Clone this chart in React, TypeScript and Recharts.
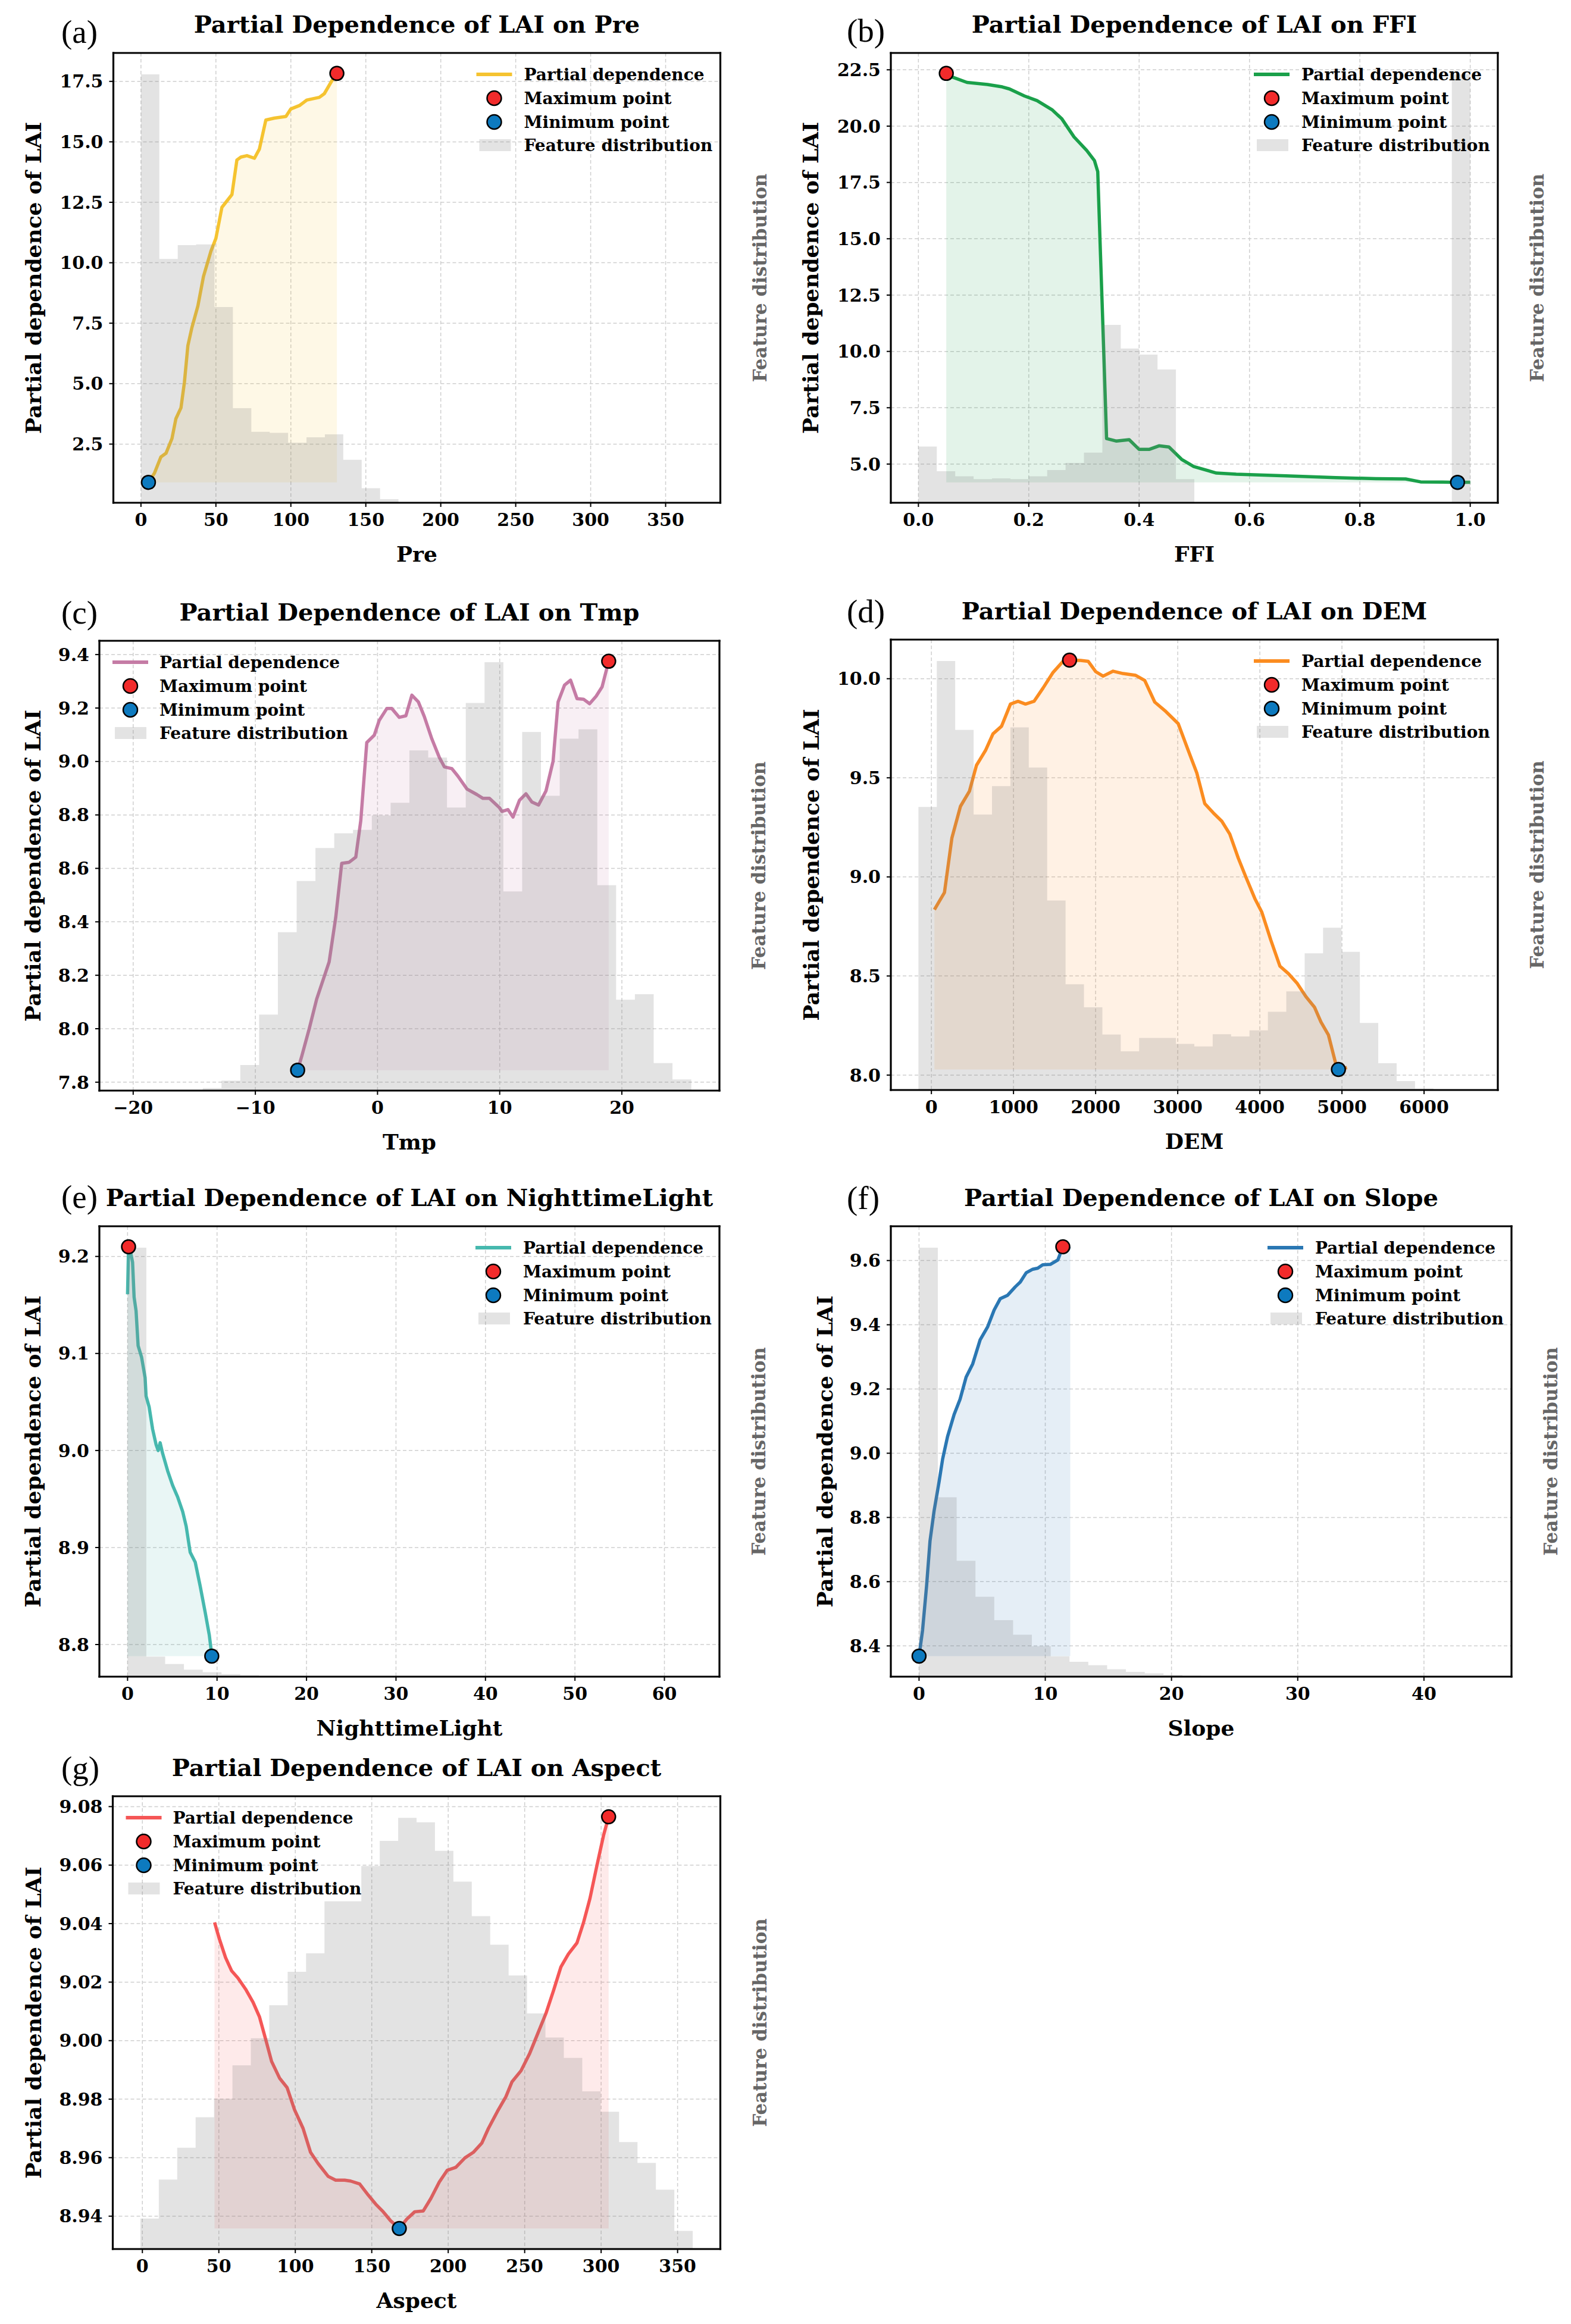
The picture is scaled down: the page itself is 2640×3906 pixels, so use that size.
import React from 'react';
import { ComposedChart, Area, Scatter, XAxis, YAxis, CartesianGrid } from 'recharts';

// ---------------- DATA ----------------
// (a) Pre
const prePD: [number, number][] = [[5,0.92],[9,1.30],[13.3,1.97],[16.7,2.12],[20.7,2.73],[23.3,3.55],[26.7,4.0],[29,5.06],[31.3,6.57],[34,7.32],[38,8.22],[41.7,9.43],[46.7,10.48],[50,11.01],[54,12.29],[60.7,12.82],[64,14.25],[66.7,14.37],[70.7,14.43],[75.7,14.32],[79,14.7],[83.3,15.9],[89,15.98],[96.7,16.05],[100,16.36],[105.7,16.5],[110.7,16.73],[119,16.84],[122.3,16.99],[129,17.7],[130.7,17.83]];
const preHistStart = 0;
const preHistWidth = 12.27;
const preHistCounts = [1177,670,708,710,538,260,195,192,165,180,188,118,40,10,0,0,0,0,0,0,0,0,0,0,0,0,0,0,0,0];
const preXTicks = [0,50,100,150,200,250,300,350];
const preYTicks = [2.5,5,7.5,10,12.5,15,17.5];

// (b) FFI
const ffiPD: [number, number][] = [[0.0505,22.34],[0.061,22.18],[0.088,21.94],[0.125,21.85],[0.152,21.74],[0.165,21.65],[0.192,21.34],[0.215,21.13],[0.242,20.73],[0.26,20.32],[0.282,19.52],[0.305,18.92],[0.319,18.47],[0.325,17.98],[0.33,14.27],[0.334,11.37],[0.341,6.13],[0.359,6.02],[0.382,6.08],[0.4,5.65],[0.418,5.65],[0.436,5.81],[0.454,5.76],[0.477,5.21],[0.499,4.89],[0.54,4.6],[0.576,4.55],[0.666,4.48],[0.756,4.4],[0.829,4.35],[0.883,4.34],[0.91,4.21],[0.95,4.2],[0.977,4.19],[1.0,4.195]];
const ffiHistStart = 0;
const ffiHistWidth = 1 / 30;
const ffiHistCounts = [155,87,73,65,67,65,73,90,110,138,490,425,408,367,65,0,0,0,0,0,0,0,0,0,0,0,0,0,0,1180];
const ffiXTicks = [0,0.2,0.4,0.6,0.8,1.0];
const ffiYTicks = [5,7.5,10,12.5,15,17.5,20,22.5];

// (c) Tmp
const tmpPD: [number, number][] = [[-6.54,7.845],[-6.21,7.896],[-5.59,8.0],[-4.98,8.111],[-3.96,8.25],[-3.42,8.417],[-2.93,8.619],[-2.32,8.623],[-1.78,8.642],[-1.37,8.779],[-0.88,9.071],[-0.27,9.098],[0.14,9.154],[0.76,9.198],[1.17,9.198],[1.78,9.165],[2.32,9.171],[2.81,9.248],[3.34,9.223],[3.83,9.168],[4.45,9.084],[5.06,9.015],[5.47,8.98],[6.09,8.973],[6.58,8.945],[7.32,8.897],[8.14,8.876],[8.63,8.862],[9.16,8.862],[9.98,8.827],[10.18,8.813],[10.68,8.82],[11.09,8.792],[11.62,8.855],[12.15,8.879],[12.64,8.848],[13.18,8.837],[13.79,8.89],[14.37,9.001],[14.78,9.223],[15.31,9.286],[15.8,9.304],[16.33,9.235],[16.86,9.233],[17.36,9.216],[17.89,9.244],[18.38,9.279],[18.92,9.375]];
const tmpHistStart = -20.46;
const tmpHistWidth = 1.538;
const tmpHistCounts = [0,0,0,0,7,27,69,205,427,565,654,694,703,742,776,917,898,763,1045,1155,537,967,795,949,974,554,245,260,74,30];
const tmpXTicks = [-20,-10,0,10,20];
const tmpYTicks = [7.8,8.0,8.2,8.4,8.6,8.8,9.0,9.2,9.4];

// (d) DEM
const demPD: [number, number][] = [[37,8.835],[159,8.921],[250,9.197],[354,9.356],[463,9.432],[549,9.563],[659,9.638],[750,9.722],[854,9.76],[963,9.872],[1055,9.886],[1146,9.872],[1250,9.886],[1360,9.953],[1482,10.032],[1604,10.088],[1683,10.094],[1817,10.092],[1909,10.088],[2000,10.036],[2091,10.013],[2213,10.038],[2335,10.026],[2488,10.017],[2598,9.991],[2720,9.882],[2854,9.835],[3006,9.773],[3128,9.638],[3232,9.525],[3329,9.37],[3433,9.323],[3537,9.281],[3634,9.216],[3738,9.094],[3829,9.0],[3939,8.891],[4024,8.822],[4134,8.681],[4244,8.55],[4348,8.512],[4451,8.465],[4561,8.396],[4665,8.343],[4744,8.268],[4835,8.203],[4927,8.053],[4957,8.028],[5061,8.038]];
const demHistStart = -158;
const demHistWidth = 224;
const demHistCounts = [760,1152,967,740,816,974,866,509,284,222,149,104,140,140,124,117,150,144,160,210,265,367,436,371,180,72,24,4,0,0];
const demXTicks = [0,1000,2000,3000,4000,5000,6000];
const demYTicks = [8.0,8.5,9.0,9.5,10.0];

// (e) NighttimeLight
const ntlPD: [number, number][] = [[0,9.161],[0.11,9.21],[0.39,9.202],[0.56,9.194],[0.73,9.158],[0.95,9.144],[1.18,9.108],[1.57,9.096],[1.96,9.075],[2.07,9.056],[2.41,9.045],[2.8,9.022],[3.19,9.006],[3.42,9.0],[3.64,9.008],[3.92,8.997],[4.48,8.979],[5.04,8.964],[5.6,8.952],[6.16,8.937],[6.55,8.922],[7.0,8.895],[7.56,8.885],[8.12,8.86],[8.68,8.833],[9.13,8.81],[9.36,8.793],[9.41,8.788]];
const ntlHistStart = 0;
const ntlHistWidth = 2.1;
const ntlHistCounts = [1154,54,34,19,12,7,4,2,0,0,0,0,0,0,0,0,0,0,0,0,0,0,0,0,0,0,0,0,0,0];
const ntlXTicks = [0,10,20,30,40,50,60];
const ntlYTicks = [8.8,8.9,9.0,9.1,9.2];

// (f) Slope
const slopePD: [number, number][] = [[0,8.368],[0.28,8.449],[0.6,8.588],[0.87,8.727],[1.19,8.82],[1.59,8.912],[1.87,8.982],[2.26,9.052],[2.78,9.121],[3.25,9.168],[3.73,9.237],[4.25,9.278],[4.84,9.353],[5.44,9.394],[5.95,9.446],[6.43,9.481],[7.02,9.492],[7.62,9.518],[8.02,9.533],[8.49,9.562],[9.01,9.573],[9.4,9.576],[9.8,9.587],[10.4,9.588],[11.0,9.602],[11.39,9.643],[11.98,9.637]];
const slopeHistStart = 0;
const slopeHistWidth = 1.49;
const slopeHistCounts = [1155,483,312,215,152,113,82,55,40,31,20,13,9,5,3,0,0,0,0,0,0,0,0,0,0,0,0,0,0,0];
const slopeXTicks = [0,10,20,30,40];
const slopeYTicks = [8.4,8.6,8.8,9.0,9.2,9.4,9.6];

// (g) Aspect
const aspectPD: [number, number][] = [[47.2,9.0404],[50.4,9.0347],[54.4,9.0284],[58.3,9.0239],[62.5,9.0214],[67.5,9.0176],[72.4,9.0131],[76.6,9.0081],[80.6,9.0005],[84.5,8.9929],[89.7,8.9872],[94.6,8.984],[99.5,8.9764],[105.1,8.97],[110.0,8.9618],[114.9,8.958],[121.5,8.9536],[126.4,8.9523],[132.3,8.9523],[136.2,8.952],[142.1,8.951],[147.7,8.9472],[152.6,8.9441],[157.5,8.9415],[162.4,8.9384],[168.0,8.9358],[172.9,8.939],[178.1,8.9415],[183.7,8.9418],[188.6,8.946],[194.2,8.9517],[199.4,8.9557],[205.0,8.9567],[210.9,8.9599],[216.4,8.9618],[222.0,8.965],[226.3,8.97],[232.2,8.9758],[237.7,8.9808],[241.7,8.9859],[247.6,8.9897],[253.1,8.9954],[258.0,9.0017],[263.9,9.0093],[268.8,9.017],[273.7,9.0252],[278.6,9.0296],[284.2,9.0334],[288.5,9.0404],[292.7,9.0486],[297.3,9.06],[301.6,9.0702],[304.9,9.0765]];
const aspectHistStart = -1.3;
const aspectHistWidth = 12.04;
const aspectHistCounts = [82,187,273,355,405,495,568,657,747,797,937,937,1032,1100,1162,1150,1073,990,897,820,737,635,570,515,425,370,288,232,160,49];
const aspectXTicks = [0,50,100,150,200,250,300,350];
const aspectYTicks = [8.94,8.96,8.98,9.0,9.02,9.04,9.06,9.08];

// ---------------- STYLE / LAYOUT ----------------
const FONT = "'DejaVu Serif', serif";
const TAG_FONT = "'Liberation Serif', 'Times New Roman', serif";
const MAX_COLOR = '#f22b2b';
const MIN_COLOR = '#0d7abf';
const HIST_COLOR = '#808080';
const HIST_OPACITY = 0.22;

type Spec = {
  tag: string; feature: string; color: string;
  pd: [number, number][]; histStart: number; histWidth: number; hist: number[];
  xTicks: number[]; yTicks: number[]; xDec: number; yDec: number;
  col: number; L: number; T: number; R: number; B: number;
  legend: 'left' | 'right'; yLabelGap: number; tagDy: number;
};

const panels: Spec[] = [
  { tag: '(a)', feature: 'Pre', color: '#f5c330', pd: prePD, histStart: preHistStart, histWidth: preHistWidth, hist: preHistCounts, xTicks: preXTicks, yTicks: preYTicks, xDec: 0, yDec: 1, col: 0, L: 190.5, T: 89, R: 1210.5, B: 845, legend: 'right', yLabelGap: 135, tagDy: 17 },
  { tag: '(b)', feature: 'FFI', color: '#1aa04a', pd: ffiPD, histStart: ffiHistStart, histWidth: ffiHistWidth, hist: ffiHistCounts, xTicks: ffiXTicks, yTicks: ffiYTicks, xDec: 1, yDec: 1, col: 1320, L: 1497, T: 89, R: 2517, B: 845, legend: 'right', yLabelGap: 135, tagDy: 19 },
  { tag: '(c)', feature: 'Tmp', color: '#c57ba5', pd: tmpPD, histStart: tmpHistStart, histWidth: tmpHistWidth, hist: tmpHistCounts, xTicks: tmpXTicks, yTicks: tmpYTicks, xDec: 0, yDec: 1, col: 0, L: 167, T: 1077, R: 1209, B: 1833, legend: 'left', yLabelGap: 112, tagDy: 29 },
  { tag: '(d)', feature: 'DEM', color: '#fb8c20', pd: demPD, histStart: demHistStart, histWidth: demHistWidth, hist: demHistCounts, xTicks: demXTicks, yTicks: demYTicks, xDec: 0, yDec: 1, col: 1320, L: 1497, T: 1075, R: 2517, B: 1832, legend: 'right', yLabelGap: 134, tagDy: 29 },
  { tag: '(e)', feature: 'NighttimeLight', color: '#46b8ae', pd: ntlPD, histStart: ntlHistStart, histWidth: ntlHistWidth, hist: ntlHistCounts, xTicks: ntlXTicks, yTicks: ntlYTicks, xDec: 0, yDec: 1, col: 0, L: 167, T: 2061, R: 1209, B: 2818, legend: 'right', yLabelGap: 112, tagDy: 31 },
  { tag: '(f)', feature: 'Slope', color: '#2a77b3', pd: slopePD, histStart: slopeHistStart, histWidth: slopeHistWidth, hist: slopeHistCounts, xTicks: slopeXTicks, yTicks: slopeYTicks, xDec: 0, yDec: 1, col: 1320, L: 1497, T: 2061, R: 2540, B: 2818, legend: 'right', yLabelGap: 111, tagDy: 29 },
  { tag: '(g)', feature: 'Aspect', color: '#f55656', pd: aspectPD, histStart: aspectHistStart, histWidth: aspectHistWidth, hist: aspectHistCounts, xTicks: aspectXTicks, yTicks: aspectYTicks, xDec: 0, yDec: 2, col: 0, L: 189.5, T: 3019, R: 1210.5, B: 3780, legend: 'left', yLabelGap: 134, tagDy: 29 },
];

function fmt(v: number, d: number): string {
  const s = v.toFixed(d);
  return s.startsWith('-') ? '\u2212' + s.slice(1) : s;
}

function makeDot(fill: string) {
  return (props: any) => {
    const { cx, cy } = props;
    if (cx == null || cy == null) return <g />;
    return <circle cx={cx} cy={cy} r={11.5} fill={fill} stroke="#000" strokeWidth={2.5} />;
  };
}

const tickStyle = { fontFamily: FONT, fontSize: 30, fontWeight: 700, fill: '#000' };
const axisLineStyle = { stroke: '#000', strokeWidth: 3.2, strokeLinecap: 'square' as const };
const tickLineStyle = { stroke: '#000', strokeWidth: 2 };
const AX = 1; // axis band thickness reserved by each axis

function PDPanel({ p }: { p: Spec }) {
  const W = 1320;
  const oy = p.T - 110;
  const H = p.B - p.T + 220;
  const ox = p.col;

  const pdData = p.pd.map(([x, y]) => ({ x, y }));
  const ys = p.pd.map((d) => d[1]);
  const lo = Math.min(...ys);
  const hi = Math.max(...ys);
  const pad = (hi - lo) * 0.05;
  const iMax = ys.indexOf(hi);
  const iMin = ys.indexOf(lo);
  const maxPt = [{ x: p.pd[iMax][0], y: hi }];
  const minPt = [{ x: p.pd[iMin][0], y: lo }];

  const histEnd = p.histStart + p.hist.length * p.histWidth;
  const xpad = (histEnd - p.histStart) * 0.05;
  const xDomain: [number, number] = [p.histStart - xpad, histEnd + xpad];
  const histData = [
    ...p.hist.map((h, i) => ({ x: p.histStart + i * p.histWidth, h })),
    { x: histEnd, h: p.hist[p.hist.length - 1] },
  ];
  const hMax = Math.max(...p.hist);

  const margin = {
    top: p.T - oy - AX,
    bottom: oy + H - p.B - AX,
    left: p.L - ox - AX,
    right: ox + W - p.R - AX,
  };

  // overlay coordinates (relative to panel box)
  const L = p.L - ox, R = p.R - ox, T = p.T - oy, B = p.B - oy;
  const cx = (L + R) / 2;
  const cy = (T + B) / 2;
  const yLabelX = L - p.yLabelGap + 13;
  const rightLabelX = R + 66 + 11;

  const lg = p.legend === 'right'
    ? { lx1: R - 410, lx2: R - 350, mx: R - 380, px: R - 405, tx: R - 330 }
    : { lx1: L + 22, lx2: L + 82, mx: L + 52, px: L + 26, tx: L + 101 };
  const rows = [T + 36, T + 76, T + 116, T + 155];
  const legendText = { fontFamily: FONT, fontSize: 28, fontWeight: 700, fill: '#000' };

  return (
    <div style={{ position: 'absolute', left: ox, top: oy, width: W, height: H }}>
      <div style={{ position: 'absolute', left: 0, top: 0 }}>
        <ComposedChart width={W} height={H} margin={margin}>
          <CartesianGrid xAxisId="x" yAxisId="pd" stroke="#cfcfcf" strokeWidth={1.5} strokeDasharray="6 4" />
          <Area
            xAxisId="x" yAxisId="pd" data={pdData} dataKey="y" type="linear"
            baseValue={lo} stroke={p.color} strokeWidth={5.5} fill={p.color} fillOpacity={0.12}
            dot={false} activeDot={false} isAnimationActive={false} strokeLinejoin="round"
          />
          <Area
            xAxisId="x" yAxisId="hist" data={histData} dataKey="h" type="stepAfter"
            baseValue={0} stroke="none" fill={HIST_COLOR} fillOpacity={HIST_OPACITY}
            dot={false} activeDot={false} isAnimationActive={false}
          />
          <Scatter xAxisId="x" yAxisId="pd" data={maxPt} dataKey="y" shape={makeDot(MAX_COLOR)} isAnimationActive={false} />
          <Scatter xAxisId="x" yAxisId="pd" data={minPt} dataKey="y" shape={makeDot(MIN_COLOR)} isAnimationActive={false} />
          <XAxis
            xAxisId="x" dataKey="x" type="number" domain={xDomain} allowDataOverflow ticks={p.xTicks}
            interval={0} height={AX} tickSize={7} tickMargin={11} tick={tickStyle}
            tickFormatter={(v: number) => fmt(v, p.xDec)} axisLine={axisLineStyle} tickLine={tickLineStyle}
          />
          <XAxis
            xAxisId="top" orientation="top" dataKey="x" type="number" domain={xDomain} allowDataOverflow
            height={AX} tick={false} tickLine={false} axisLine={axisLineStyle}
          />
          <YAxis
            yAxisId="pd" dataKey="y" type="number" domain={[lo - pad, hi + pad]} allowDataOverflow ticks={p.yTicks}
            interval={0} width={AX} tickSize={7} tickMargin={10} tick={tickStyle}
            tickFormatter={(v: number) => fmt(v, p.yDec)} axisLine={axisLineStyle} tickLine={tickLineStyle}
          />
          <YAxis
            yAxisId="hist" orientation="right" type="number" domain={[0, hMax * 1.05]} allowDataOverflow
            width={AX} tick={false} tickLine={false} axisLine={axisLineStyle}
          />
        </ComposedChart>
      </div>
      <svg width={W} height={H} style={{ position: 'absolute', left: 0, top: 0, pointerEvents: 'none' }}>
        <text x={103} y={T - p.tagDy} fontFamily={TAG_FONT} fontSize={55} fill="#000">{p.tag}</text>
        <text x={cx} y={T - 34} textAnchor="middle" fontFamily={FONT} fontSize={40} fontWeight={700} fill="#000">
          {`Partial Dependence of LAI on ${p.feature}`}
        </text>
        <text x={cx} y={B + 99} textAnchor="middle" fontFamily={FONT} fontSize={36} fontWeight={700} fill="#000">
          {p.feature}
        </text>
        <text x={yLabelX} y={cy} textAnchor="middle" transform={`rotate(-90 ${yLabelX} ${cy})`} fontFamily={FONT} fontSize={36} fontWeight={700} fill="#000">
          Partial dependence of LAI
        </text>
        <text x={rightLabelX} y={cy} textAnchor="middle" transform={`rotate(-90 ${rightLabelX} ${cy})`} fontFamily={FONT} fontSize={31} fontWeight={700} fill="#666">
          Feature distribution
        </text>
        {/* legend */}
        <line x1={lg.lx1} x2={lg.lx2} y1={rows[0]} y2={rows[0]} stroke={p.color} strokeWidth={6} />
        <text x={lg.tx} y={rows[0] + 10} {...legendText}>Partial dependence</text>
        <circle cx={lg.mx} cy={rows[1]} r={12} fill={MAX_COLOR} stroke="#000" strokeWidth={2.5} />
        <text x={lg.tx} y={rows[1] + 10} {...legendText}>Maximum point</text>
        <circle cx={lg.mx} cy={rows[2]} r={12} fill={MIN_COLOR} stroke="#000" strokeWidth={2.5} />
        <text x={lg.tx} y={rows[2] + 10} {...legendText}>Minimum point</text>
        <rect x={lg.px} y={rows[3] - 10} width={53} height={20} fill={HIST_COLOR} fillOpacity={HIST_OPACITY} />
        <text x={lg.tx} y={rows[3] + 10} {...legendText}>Feature distribution</text>
      </svg>
    </div>
  );
}

export default function App() {
  return (
    <div style={{ position: 'absolute', left: 0, top: 0, width: 2640, height: 3906, background: '#fff' }}>
      {panels.map((p) => (
        <PDPanel key={p.tag} p={p} />
      ))}
    </div>
  );
}
